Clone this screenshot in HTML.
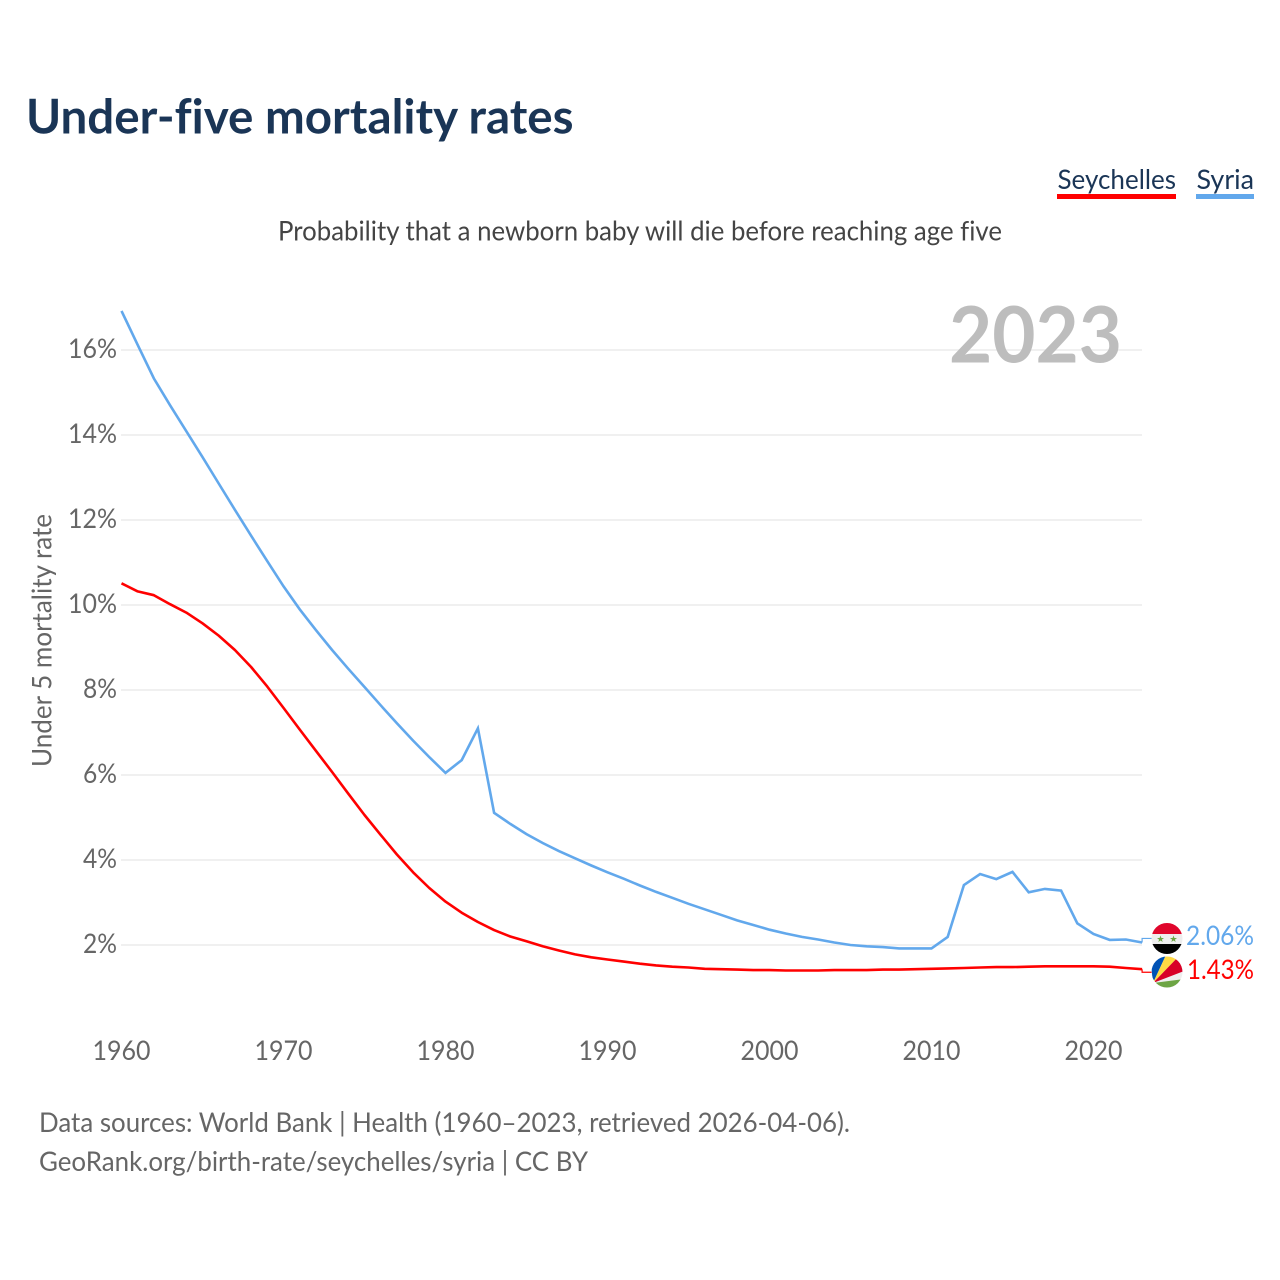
<!DOCTYPE html>
<html lang="en">
<head>
<meta charset="utf-8">
<title>Under-five mortality rates</title>
<style>
html,body{margin:0;padding:0;background:#fff;width:1280px;height:1280px;overflow:hidden}
svg{display:block}
text{font-family:"Lato","Carlito","Liberation Sans",sans-serif;font-variant-ligatures:none}
</style>
</head>
<body>
<svg id="chart" xmlns="http://www.w3.org/2000/svg" width="1280" height="1280" viewBox="0 0 1280 1280">
  <rect width="1280" height="1280" fill="#fff"/>
  <text x="26" y="133.5" font-size="47.5" font-weight="700" fill="#1a3556" textLength="547.5" lengthAdjust="spacingAndGlyphs">Under-five mortality rates</text>
  <text x="278" y="240.5" font-size="27" fill="#444" textLength="724" lengthAdjust="spacingAndGlyphs">Probability that a newborn baby will die before reaching age five</text>

  <g>
    <text x="1057.5" y="189" font-size="27" fill="#1a3556" textLength="118.5" lengthAdjust="spacingAndGlyphs">Seychelles</text>
    <rect x="1057" y="194" width="119" height="5" fill="#ff0000"/>
  </g>
  <g>
    <text x="1196.5" y="189" font-size="27" fill="#1a3556" textLength="57.5" lengthAdjust="spacingAndGlyphs">Syria</text>
    <rect x="1196" y="194" width="58" height="5" fill="#62a8ec"/>
  </g>

  <g id="grid"></g>
  <g id="yticks"></g>
  <g id="xticks"></g>

  <text transform="translate(51.5,767) rotate(-90)" font-size="27" fill="#666" textLength="253" lengthAdjust="spacingAndGlyphs">Under 5 mortality rate</text>
  <text x="949" y="362.5" font-size="78" font-weight="700" fill="#bdbdbd" textLength="173" lengthAdjust="spacingAndGlyphs">2023</text>

  <g id="series"></g>

  <defs>
    <clipPath id="clip-syria"><circle cx="1167" cy="938.5" r="15.5"/></clipPath>
    <clipPath id="clip-seychelles"><circle cx="1167" cy="972" r="15.5"/></clipPath>
  </defs>
  <g id="flag-syria" clip-path="url(#clip-syria)">
    <rect x="1151" y="923" width="32" height="11" fill="#e0062c"/>
    <rect x="1151" y="934" width="32" height="10" fill="#eeeeee"/>
    <rect x="1151" y="944" width="32" height="11" fill="#000"/>
    <polygon points="1160.5,935.5 1161.4,938 1164,938 1161.9,939.6 1162.7,942 1160.5,940.5 1158.3,942 1159.1,939.6 1157,938 1159.6,938" fill="#6da544"/>
    <polygon points="1173.5,935.5 1174.4,938 1177,938 1174.9,939.6 1175.7,942 1173.5,940.5 1171.3,942 1172.1,939.6 1170,938 1172.6,938" fill="#6da544"/>
  </g>
  <g id="flag-seychelles" clip-path="url(#clip-seychelles)">
    <rect x="1151" y="956" width="32" height="32" fill="#eeeeee"/>
    <polygon points="1153,983 1150,955 1166,955" fill="#0052b4"/>
    <polygon points="1153,983 1166,955 1180,955" fill="#ffda44"/>
    <polygon points="1153,983 1180,955 1184,962 1184,971" fill="#d80027"/>
    <polygon points="1153,983 1184,979 1184,990 1153,990" fill="#6da544"/>
  </g>

  <text x="39" y="1132" font-size="27" fill="#666" textLength="811" lengthAdjust="spacingAndGlyphs">Data sources: World Bank | Health (1960–2023, retrieved 2026-04-06).</text>
  <text x="39" y="1171" font-size="27" fill="#666" textLength="549" lengthAdjust="spacingAndGlyphs">GeoRank.org/birth-rate/seychelles/syria | CC BY</text>
</svg>
<script>
const startYear = 1960;
const xTickYears = [1960, 1970, 1980, 1990, 2000, 2010, 2020];
const yTickValues = [2, 4, 6, 8, 10, 12, 14, 16];
const syriaValues = [
  16.92, 16.12, 15.33, 14.70, 14.09, 13.48, 12.86, 12.24, 11.63, 11.03,
  10.44, 9.90, 9.41, 8.94, 8.50, 8.07, 7.64, 7.22, 6.81, 6.42,
  6.05, 6.35, 7.10, 5.11, 4.85, 4.61, 4.40, 4.21, 4.04, 3.87,
  3.71, 3.56, 3.40, 3.25, 3.11, 2.97, 2.84, 2.71, 2.58, 2.47,
  2.36, 2.27, 2.19, 2.13, 2.06, 2.00, 1.97, 1.95, 1.92, 1.92,
  1.92, 2.19, 3.41, 3.67, 3.55, 3.72, 3.24, 3.32, 3.28, 2.51,
  2.26, 2.12, 2.13, 2.06
];
const seychellesValues = [
  10.51, 10.32, 10.23, 10.02, 9.82, 9.57, 9.28, 8.94, 8.54, 8.08,
  7.58, 7.07, 6.57, 6.07, 5.56, 5.06, 4.59, 4.13, 3.71, 3.34,
  3.02, 2.76, 2.54, 2.35, 2.20, 2.09, 1.97, 1.87, 1.78, 1.71,
  1.66, 1.61, 1.56, 1.52, 1.49, 1.47, 1.44, 1.43, 1.42, 1.41,
  1.41, 1.40, 1.40, 1.40, 1.41, 1.41, 1.41, 1.42, 1.42, 1.43,
  1.44, 1.45, 1.46, 1.47, 1.48, 1.48, 1.49, 1.50, 1.50, 1.50,
  1.50, 1.49, 1.46, 1.43
];

const NS = 'http://www.w3.org/2000/svg';
const xScale = function (year) { return 121.5 + (year - 1960) * 16.2; };
const yScale = function (value) { return 1030 - value * 42.5; };
const make = function (tag, parent) {
  const node = document.createElementNS(NS, tag);
  parent.appendChild(node);
  return node;
};
const linePath = function (values) {
  return values.map(function (v, i) {
    return (i ? 'L' : 'M') + xScale(startYear + i).toFixed(1) + ' ' + yScale(v).toFixed(1);
  }).join(' ');
};

const grid = document.getElementById('grid');
const yticks = document.getElementById('yticks');
const xticks = document.getElementById('xticks');
const series = document.getElementById('series');

yTickValues.forEach(function (v) {
  const gl = make('line', grid);
  
  
  gl.setAttribute('x1', 121);
  gl.setAttribute('x2', 1142);
  gl.setAttribute('y1', yScale(v));
  gl.setAttribute('y2', yScale(v));
  gl.setAttribute('stroke', '#eeeeee');
  gl.setAttribute('stroke-width', '1.8');

  const t = make('text', yticks);
  
  
  t.setAttribute('x', 117);
  t.setAttribute('y', yScale(v) + 8);
  t.setAttribute('text-anchor', 'end');
  t.setAttribute('font-size', '27');
  t.setAttribute('fill', '#666');
  t.setAttribute('textLength', v >= 10 ? '49' : '34');
  t.setAttribute('lengthAdjust', 'spacingAndGlyphs');
  t.textContent = v + '%';
});

xTickYears.forEach(function (yr) {
  const t = make('text', xticks);
  
  
  t.setAttribute('x', xScale(yr));
  t.setAttribute('y', 1060);
  t.setAttribute('text-anchor', 'middle');
  t.setAttribute('font-size', '27');
  t.setAttribute('fill', '#666');
  t.setAttribute('textLength', '58');
  t.setAttribute('lengthAdjust', 'spacingAndGlyphs');
  t.textContent = String(yr);
});

const syriaLine = make('path', series);


syriaLine.setAttribute('d', linePath(syriaValues));
syriaLine.setAttribute('fill', 'none');
syriaLine.setAttribute('stroke', '#62a8ec');
syriaLine.setAttribute('stroke-width', '2.6');
syriaLine.setAttribute('stroke-linejoin', 'miter');

const seychellesLine = make('path', series);


seychellesLine.setAttribute('d', linePath(seychellesValues));
seychellesLine.setAttribute('fill', 'none');
seychellesLine.setAttribute('stroke', '#ff0000');
seychellesLine.setAttribute('stroke-width', '2.6');
seychellesLine.setAttribute('stroke-linejoin', 'round');

const lastYear = startYear + syriaValues.length - 1;
const syriaLast = syriaValues[syriaValues.length - 1];
const seychellesLast = seychellesValues[seychellesValues.length - 1];
const syriaLabelY = yScale(syriaLast) - 4;
const seychellesLabelY = yScale(seychellesLast) + 3;

const syriaLeader = make('path', series);


syriaLeader.setAttribute('d', 'M' + xScale(lastYear) + ' ' + yScale(syriaLast) + ' V' + syriaLabelY + ' H1153');
syriaLeader.setAttribute('fill', 'none');
syriaLeader.setAttribute('stroke', '#62a8ec');
syriaLeader.setAttribute('stroke-width', '1.2');

const seychellesLeader = make('path', series);


seychellesLeader.setAttribute('d', 'M' + xScale(lastYear) + ' ' + yScale(seychellesLast) + ' V' + seychellesLabelY + ' H1153');
seychellesLeader.setAttribute('fill', 'none');
seychellesLeader.setAttribute('stroke', '#ff0000');
seychellesLeader.setAttribute('stroke-width', '1.2');

const syriaLabel = make('text', series);


syriaLabel.setAttribute('x', 1186);
syriaLabel.setAttribute('y', syriaLabelY + 6.5);
syriaLabel.setAttribute('font-size', '27');
syriaLabel.setAttribute('fill', '#62a8ec');
syriaLabel.setAttribute('textLength', '68');
syriaLabel.setAttribute('lengthAdjust', 'spacingAndGlyphs');
syriaLabel.textContent = syriaLast.toFixed(2) + '%';

const seychellesLabel = make('text', series);


seychellesLabel.setAttribute('x', 1187);
seychellesLabel.setAttribute('y', seychellesLabelY + 7);
seychellesLabel.setAttribute('font-size', '27');
seychellesLabel.setAttribute('fill', '#ff0000');
seychellesLabel.setAttribute('textLength', '67');
seychellesLabel.setAttribute('lengthAdjust', 'spacingAndGlyphs');
seychellesLabel.textContent = seychellesLast.toFixed(2) + '%';
</script>
</body>
</html>
